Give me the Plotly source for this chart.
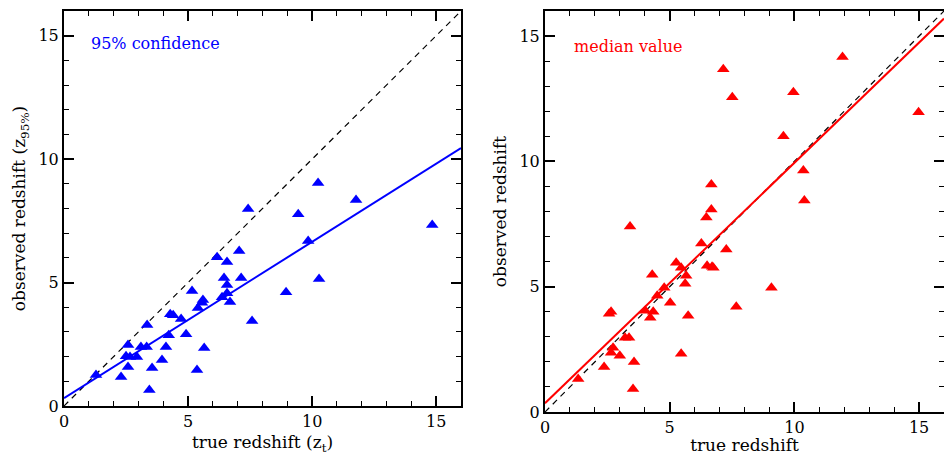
import plotly.graph_objects as go

# ---- data ----
conf_true = [1.29, 2.30, 2.58, 2.50, 2.66, 2.94, 2.58, 3.10, 3.33, 3.35, 3.55, 3.44, 3.95, 4.11,
             4.22, 4.28, 4.40, 4.72, 4.92, 5.36, 5.65, 5.16, 5.40, 5.56, 5.60, 6.17, 6.57, 6.45,
             6.57, 6.57, 6.37, 6.69, 7.06, 7.14, 7.42, 7.58, 8.95, 9.44, 9.84, 10.24, 10.28,
             11.77, 14.84]
conf_obs = [1.26, 1.17, 2.47, 2.02, 1.98, 1.98, 1.58, 2.39, 2.39, 3.28, 1.54, 0.65, 1.86, 2.39,
            2.87, 3.72, 3.68, 3.52, 2.91, 1.46, 2.35, 4.66, 3.97, 4.18, 4.29, 6.03, 5.83, 5.18,
            4.90, 4.57, 4.41, 4.21, 6.28, 5.18, 7.98, 3.44, 4.61, 7.77, 6.68, 9.03, 5.14,
            8.34, 7.33]

med_true = [1.33, 2.37, 2.65, 2.73, 3.00, 3.53, 3.57, 2.57, 2.65, 3.21, 3.37, 3.41, 4.02, 4.22,
            4.34, 4.30, 4.50, 4.78, 5.02, 5.26, 5.46, 5.46, 5.66, 5.62, 5.74, 6.27, 6.47, 6.67,
            6.67, 6.50, 6.70, 6.75, 7.27, 7.15, 7.51, 7.67, 9.08, 9.56, 9.96, 10.36, 10.40,
            11.93, 14.98]
med_obs = [1.32, 1.80, 2.36, 2.56, 2.24, 0.92, 2.00, 3.92, 4.00, 2.96, 2.96, 7.40, 4.04, 3.76,
           4.00, 5.48, 4.64, 4.96, 4.36, 5.96, 2.32, 5.76, 5.44, 5.12, 3.84, 6.72, 7.76, 8.08,
           9.08, 5.84, 5.80, 5.76, 6.48, 13.68, 12.56, 4.20, 4.96, 11.00, 12.76, 9.64, 8.44,
           14.16, 11.96]

fit_x = [0, 16]
conf_fit_y = [0.32, 10.45]
med_fit_y = [0.35, 15.70]
diag = [0, 16]

tickvals = [0, 5, 10, 15]
ticktext = ["0", "5", "10", "15"]

BLUE = "#0000ff"
RED = "#ff0000"
FONT = "DejaVu Serif"

fig = go.Figure()

# left panel
fig.add_trace(go.Scatter(x=diag, y=diag, mode="lines", xaxis="x", yaxis="y",
                         line=dict(color="black", width=1.2, dash="6px,5px"), showlegend=False))
fig.add_trace(go.Scatter(x=fit_x, y=conf_fit_y, mode="lines", xaxis="x", yaxis="y",
                         line=dict(color=BLUE, width=2), showlegend=False))
fig.add_trace(go.Scatter(x=conf_true, y=conf_obs, mode="markers", xaxis="x", yaxis="y",
                         marker=dict(symbol="triangle-up", size=11, color=BLUE), showlegend=False))

# right panel
fig.add_trace(go.Scatter(x=diag, y=diag, mode="lines", xaxis="x2", yaxis="y2",
                         line=dict(color="black", width=1.2, dash="6px,5px"), showlegend=False))
fig.add_trace(go.Scatter(x=fit_x, y=med_fit_y, mode="lines", xaxis="x2", yaxis="y2",
                         line=dict(color=RED, width=2), showlegend=False))
fig.add_trace(go.Scatter(x=med_true, y=med_obs, mode="markers", xaxis="x2", yaxis="y2",
                         marker=dict(symbol="triangle-up", size=11, color=RED), showlegend=False))

def axis(domain, title, anchor, standoff):
    return dict(
        domain=domain, range=[0, 16], anchor=anchor, automargin=False,
        tickvals=tickvals, ticktext=ticktext,
        ticks="inside", ticklen=10, tickwidth=1.5, tickcolor="black",
        minor=dict(dtick=1, ticks="inside", ticklen=5, tickwidth=1.2, tickcolor="black"),
        showline=True, linecolor="black", linewidth=2, mirror="allticks",
        showgrid=False, zeroline=False,
        tickfont=dict(family=FONT, size=16, color="black"),
        title=dict(text=title, font=dict(family=FONT, size=17, color="black"), standoff=standoff),
    )

fig.update_layout(
    width=944, height=455,
    margin=dict(l=0, r=0, t=0, b=0),
    paper_bgcolor="white", plot_bgcolor="white",
    xaxis=axis([64 / 944, 461 / 944], "true redshift (z<sub>t</sub>)", "y", 8),
    yaxis=axis([1 - 406 / 455, 1 - 11 / 455], "observed redshift (z<sub>95%</sub>)", "x", 8),
    xaxis2=axis([545 / 944, 1.0], "true redshift", "y2", 8),
    yaxis2=axis([1 - 412 / 455, 1 - 11 / 455], "observed redshift", "x2", 8),
    annotations=[
        dict(x=1.0, y=14.7, xref="x", yref="y", text="95% confidence", showarrow=False,
             xanchor="left", yanchor="middle", font=dict(family=FONT, size=16, color=BLUE)),
        dict(x=1.1, y=14.6, xref="x2", yref="y2", text="median value", showarrow=False,
             xanchor="left", yanchor="middle", font=dict(family=FONT, size=16, color=RED)),
    ],
)

fig.write_html("out.html")
